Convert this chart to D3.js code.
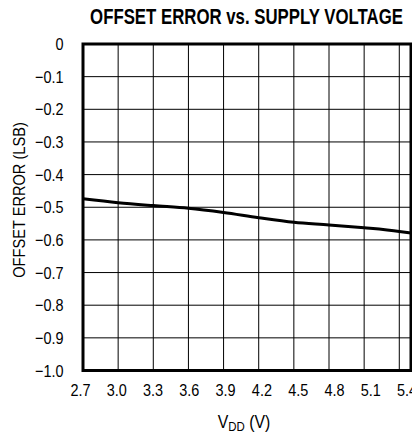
<!DOCTYPE html>
<html><head><meta charset="utf-8">
<script src="https://cdn.jsdelivr.net/npm/d3@7"></script>
<style>
html,body{margin:0;padding:0;background:#fff;overflow:hidden}
text{font-family:"Liberation Sans Narrow","Liberation Sans",Arial,sans-serif;fill:#000}
</style></head>
<body>
<svg id="c" width="412" height="433"></svg>
<script>
const vdd = [2.7, 3.0, 3.3, 3.6, 3.9, 4.2, 4.5, 4.8, 5.1, 5.4, 5.5];
const offsetErr = [-0.474, -0.486, -0.495, -0.503, -0.516, -0.532, -0.546, -0.554, -0.563, -0.574, -0.579];
const xTicks = [2.7, 3.0, 3.3, 3.6, 3.9, 4.2, 4.5, 4.8, 5.1, 5.4];
const yTicks = [0, -0.1, -0.2, -0.3, -0.4, -0.5, -0.6, -0.7, -0.8, -0.9, -1.0];
const titleText = "OFFSET ERROR vs. SUPPLY VOLTAGE";
const yTitle = "OFFSET ERROR (LSB)";

const svg = d3.select("#c");
const L = 83, R = 411, T = 44, B = 370.5;
const SX = 0.85;
const x = d3.scaleLinear().domain([2.7, 5.5]).range([L, R]);
const xLab = d3.scaleLinear().domain([2.7, 5.4]).range([80.5, 407]);
const y = d3.scaleLinear().domain([-1, 0]).range([B, T]);

svg.append("rect").attr("width", 412).attr("height", 433).attr("fill", "#fff");

// grid
svg.append("g").selectAll("line").data(xTicks.slice(1)).join("line")
  .attr("x1", d => x(d)).attr("x2", d => x(d)).attr("y1", T).attr("y2", B)
  .attr("stroke", "#000").attr("stroke-width", 1);
svg.append("g").selectAll("line").data(yTicks.slice(1, -1)).join("line")
  .attr("y1", d => y(d)).attr("y2", d => y(d)).attr("x1", L).attr("x2", R)
  .attr("stroke", "#000").attr("stroke-width", 1);

// curve
svg.append("path").datum(vdd.map((v, i) => [v, offsetErr[i]]))
  .attr("d", d3.line().x(d => x(d[0])).y(d => y(d[1])).curve(d3.curveMonotoneX))
  .attr("fill", "none").attr("stroke", "#000").attr("stroke-width", 3);

// border
svg.append("rect").attr("x", L).attr("y", T).attr("width", R - L).attr("height", B - T)
  .attr("fill", "none").attr("stroke", "#000").attr("stroke-width", 3);

// y tick labels
svg.append("g").selectAll("text").data(yTicks).join("text")
  .attr("transform", d => `translate(63.5,${y(d) + 6}) scale(${SX},1)`)
  .attr("text-anchor", "end")
  .attr("font-size", 17).text(d => d === 0 ? "0" : d3.format(".1f")(d));

// x tick labels
svg.append("g").selectAll("text").data(xTicks).join("text")
  .attr("transform", d => `translate(${xLab(d)},396) scale(${SX},1)`)
  .attr("text-anchor", "middle")
  .attr("font-size", 17).text(d => d3.format(".1f")(d));

// title (scaled horizontally to the reference width)
const title = svg.append("text").attr("text-anchor", "middle")
  .attr("font-size", 23).attr("font-weight", "bold").text(titleText);
const tw = title.node().getComputedTextLength();
title.attr("transform", `translate(246.5,24) scale(${313 / tw},1)`);

// y title
svg.append("text").attr("transform", `translate(25,200) rotate(-90) scale(0.86,1)`)
  .attr("text-anchor", "middle").attr("font-size", 17).text(yTitle);

// x title
const xt = svg.append("text").attr("transform", `translate(244,428) scale(0.88,1)`)
  .attr("text-anchor", "middle").attr("font-size", 18);
xt.append("tspan").text("V");
xt.append("tspan").attr("font-size", 13).attr("dy", 3).text("DD");
xt.append("tspan").attr("dy", -3).text(" (V)");
</script>
</body></html>
